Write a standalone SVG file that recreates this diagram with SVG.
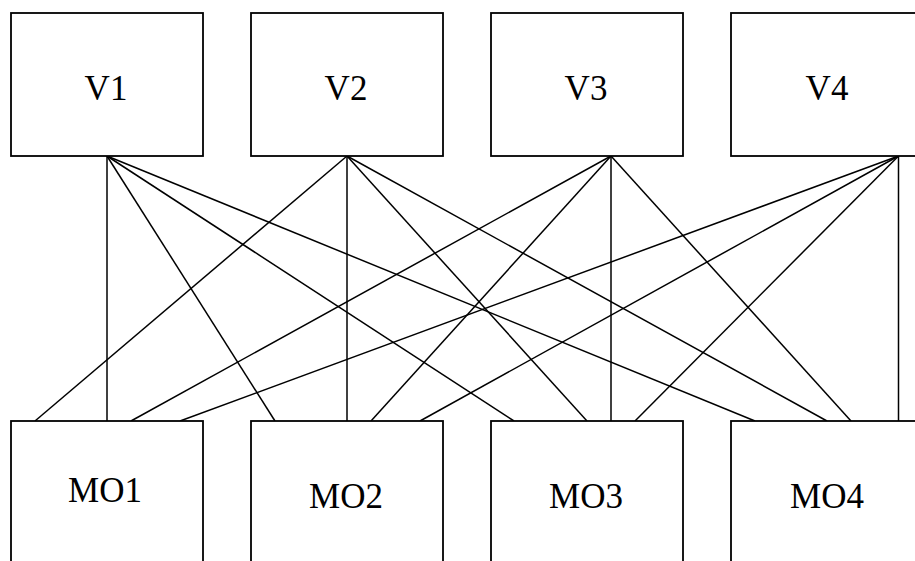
<svg xmlns="http://www.w3.org/2000/svg" width="915" height="561" viewBox="0 0 915 561">
<style>
.box{fill:#fff;stroke:#000;stroke-width:1.8}
.lbl{font-family:"Liberation Serif","Times New Roman",serif;font-size:35px;fill:#000;text-anchor:middle}
.edge{stroke:#000;stroke-width:1.5;fill:none}
</style>
<rect width="915" height="561" fill="#fff"/>
<g id="connectors">
<line class="edge" x1="107" y1="156" x2="107" y2="421"/>
<line class="edge" x1="107" y1="156" x2="275" y2="421"/>
<line class="edge" x1="107" y1="156" x2="514" y2="421"/>
<line class="edge" x1="107" y1="156" x2="755" y2="421"/>
<line class="edge" x1="347" y1="156" x2="35" y2="421"/>
<line class="edge" x1="347" y1="156" x2="347" y2="421"/>
<line class="edge" x1="347" y1="156" x2="587" y2="421"/>
<line class="edge" x1="347" y1="156" x2="827" y2="421"/>
<line class="edge" x1="611" y1="156" x2="131" y2="421"/>
<line class="edge" x1="611" y1="156" x2="371" y2="421"/>
<line class="edge" x1="611" y1="156" x2="611" y2="421"/>
<line class="edge" x1="611" y1="156" x2="851" y2="421"/>
<line class="edge" x1="898.5" y1="156" x2="180" y2="421"/>
<line class="edge" x1="898.5" y1="156" x2="420" y2="421"/>
<line class="edge" x1="898.5" y1="156" x2="635" y2="421"/>
<line class="edge" x1="898.5" y1="156" x2="898.5" y2="421"/>
</g>
<g id="V1"><rect class="box" x="11" y="13" width="192" height="143"/><text class="lbl" x="106" y="100">V1</text></g>
<g id="V2"><rect class="box" x="251" y="13" width="192" height="143"/><text class="lbl" x="346" y="100">V2</text></g>
<g id="V3"><rect class="box" x="491" y="13" width="192" height="143"/><text class="lbl" x="586" y="100">V3</text></g>
<g id="V4"><rect class="box" x="731" y="13" width="192" height="143"/><text class="lbl" x="827" y="100">V4</text></g>
<g id="MO1"><rect class="box" x="11" y="421" width="192" height="150"/><text class="lbl" x="105" y="502">MO1</text></g>
<g id="MO2"><rect class="box" x="251" y="421" width="192" height="150"/><text class="lbl" x="346" y="508">MO2</text></g>
<g id="MO3"><rect class="box" x="491" y="421" width="192" height="150"/><text class="lbl" x="586" y="508">MO3</text></g>
<g id="MO4"><rect class="box" x="731" y="421" width="192" height="150"/><text class="lbl" x="827" y="508">MO4</text></g>
</svg>
